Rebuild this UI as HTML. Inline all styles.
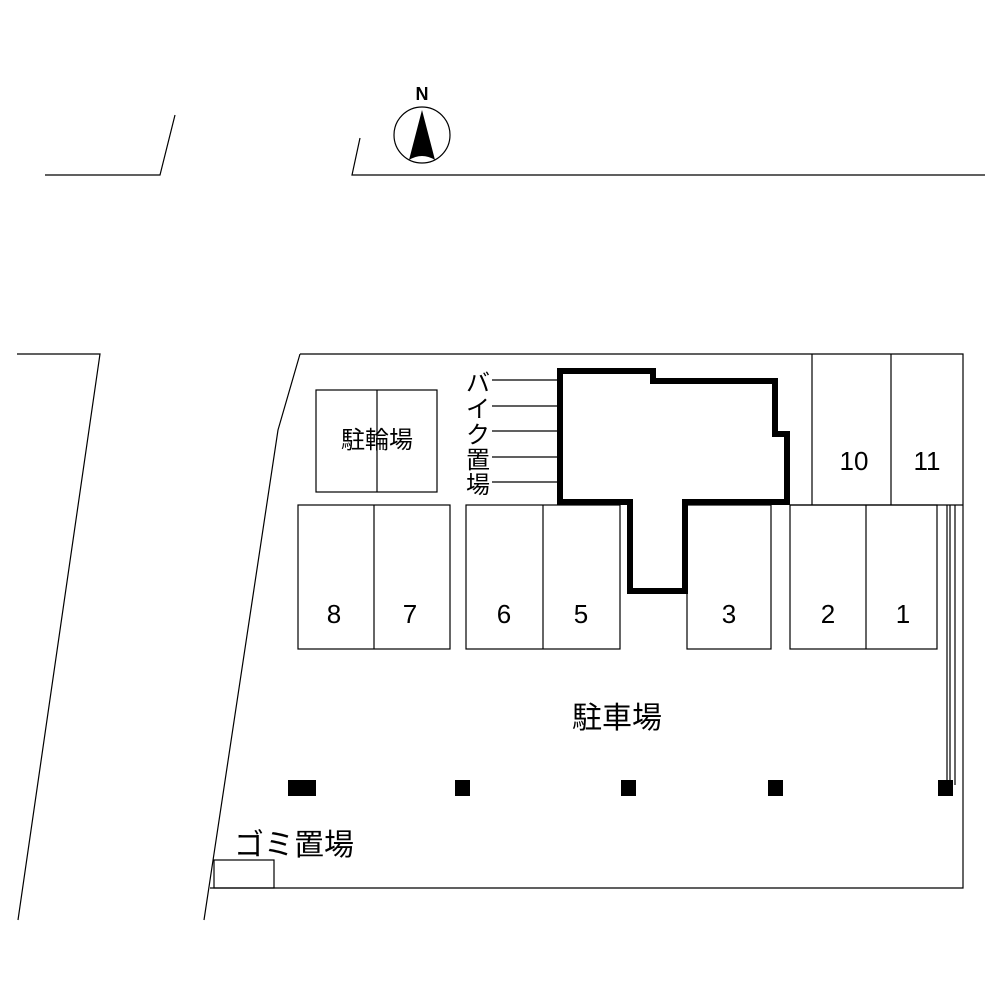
<!DOCTYPE html>
<html><head><meta charset="utf-8"><style>html,body{margin:0;padding:0;background:#fff}</style></head><body>
<svg width="1000" height="1000" viewBox="0 0 1000 1000" xmlns="http://www.w3.org/2000/svg" font-family="Liberation Sans, Noto Sans CJK JP, sans-serif">
<g stroke="#000" stroke-width="1.2" fill="none">
<polyline points="45,175 160,175 175,115"/>
<polyline points="360,138 352,175 985,175"/>
<polyline points="17,354 100,354 18,920"/>
<polyline points="300,354 963,354 963,888 210,888"/>
<polyline points="300,354 278,430 204,920"/>
<rect x="214" y="860" width="60" height="28"/>
<rect x="316" y="390" width="121" height="102"/><line x1="377" y1="390" x2="377" y2="492"/>
<line x1="492" y1="380" x2="557" y2="380"/><line x1="492" y1="406" x2="557" y2="406"/><line x1="492" y1="431" x2="557" y2="431"/><line x1="492" y1="457" x2="557" y2="457"/><line x1="492" y1="482" x2="557" y2="482"/>
<rect x="298" y="505" width="152" height="144"/><line x1="374" y1="505" x2="374" y2="649"/>
<rect x="466" y="505" width="154" height="144"/><line x1="543" y1="505" x2="543" y2="649"/>
<rect x="687" y="505" width="84" height="144"/>
<rect x="790" y="505" width="147" height="144"/><line x1="866" y1="505" x2="866" y2="649"/>
<line x1="790" y1="505" x2="963" y2="505"/>
<line x1="812" y1="354" x2="812" y2="505"/><line x1="891" y1="354" x2="891" y2="505"/>
<line x1="947" y1="505" x2="947" y2="785"/><line x1="950" y1="505" x2="950" y2="785"/><line x1="955" y1="505" x2="955" y2="785"/>
<circle cx="422" cy="135" r="28"/>
</g>
<polygon points="560,371 653,371 653,381 775,381 775,434 787,434 787,502 685,502 685,591 630,591 630,502 560,502" fill="#fff" stroke="#000" stroke-width="6"/>
<path d="M422,110 L409,160 Q422,152 435,160 Z" fill="#000"/>
<g fill="#000">
<rect x="288" y="780" width="28" height="16"/><rect x="455" y="780" width="15" height="16"/><rect x="621" y="780" width="15" height="16"/><rect x="768" y="780" width="15" height="16"/><rect x="938" y="780" width="15" height="16"/>
</g>
<g fill="#000" text-anchor="middle">
<text x="422" y="100" font-size="18" font-weight="bold">N</text>
<text x="377" y="448" font-size="24">駐輪場</text>
<text x="334" y="623" font-size="26">8</text><text x="410" y="623" font-size="26">7</text>
<text x="504" y="623" font-size="26">6</text><text x="581" y="623" font-size="26">5</text>
<text x="729" y="623" font-size="26">3</text><text x="828" y="623" font-size="26">2</text><text x="903" y="623" font-size="26">1</text>
<text x="854" y="470" font-size="26">10</text><text x="927" y="470" font-size="26">11</text>
<text x="617" y="728" font-size="30">駐車場</text>
<text x="294" y="855" font-size="30">ゴミ置場</text>
<text x="478" y="391" font-size="24">バ</text><text x="478" y="417" font-size="24">イ</text><text x="478" y="443" font-size="24">ク</text><text x="478" y="468" font-size="24">置</text><text x="478" y="493" font-size="24">場</text>
</g>
</svg>
</body></html>
